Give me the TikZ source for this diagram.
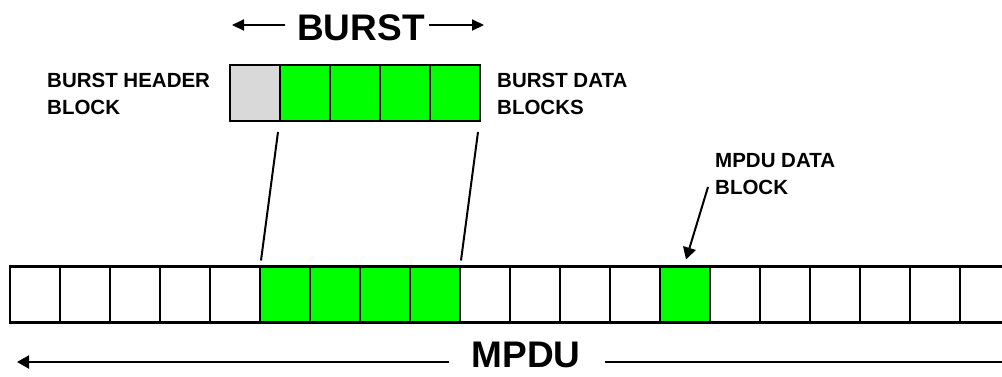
\documentclass[tikz,border=0pt]{standalone}
\usepackage{fontspec}
\setmainfont{Liberation Sans}
\usetikzlibrary{arrows.meta}
\definecolor{brightgreen}{HTML}{00FF00}
\definecolor{hdrgray}{HTML}{D9D9D9}
\begin{document}
\begin{tikzpicture}[x=1pt,y=-1pt,
  cell/.style={draw=black, line width=2.5pt, minimum width=50pt, minimum height=56pt, inner sep=0pt, outer sep=0pt, fill=white},
  gcell/.style={cell, fill=brightgreen},
  hcell/.style={cell, fill=hdrgray},
  lbl/.style={font=\bfseries\fontsize{20.5}{27}\selectfont, align=left, inner sep=0pt, anchor=west},
  big/.style={font=\bfseries\fontsize{37}{40}\selectfont, inner sep=0pt},
  conn/.style={line width=2pt},
  arr/.style={line width=2pt, -{Triangle[length=12pt,width=11pt]}},
  arrb/.style={line width=2pt, -{Triangle[length=12pt,width=13pt]}}
]
\useasboundingbox (0,0) rectangle (1002,376);
\begin{scope}
\clip (0,0) rectangle (1002,376);
% bottom row of 20 cells
\foreach \i in {0,...,19}{
  \pgfmathsetmacro{\cx}{35+50*\i}
  \ifnum\i=5 \node[gcell] (c\i) at (\cx,294.5) {};
  \else\ifnum\i=6 \node[gcell] (c\i) at (\cx,294.5) {};
  \else\ifnum\i=7 \node[gcell] (c\i) at (\cx,294.5) {};
  \else\ifnum\i=8 \node[gcell] (c\i) at (\cx,294.5) {};
  \else\ifnum\i=13 \node[gcell] (c\i) at (\cx,294.5) {};
  \else \node[cell] (c\i) at (\cx,294.5) {};
  \fi\fi\fi\fi\fi
}
% burst blocks
\node[hcell] (b0) at (255,93) {};
\foreach \j in {1,...,4}{
  \node[gcell] (b\j) at (255+50*\j,93) {};
}
% labels
\node[lbl] (hdr) at (47,94) {BURST HEADER\\BLOCK};
\node[lbl] (dat) at (497,94) {BURST DATA\\BLOCKS};
\node[lbl] (mdb) at (715,174) {MPDU DATA\\BLOCK};
\node[big] (burst) at (361,28) {BURST};
\node[big] (mpdu) at (526,355) {MPDU};
% burst arrows
\coordinate (bl) at (232,25);
\coordinate (br) at (484,25);
\draw[arr] ([xshift=-12pt]burst.west |- 0,25) -- (bl);
\draw[arr] ([xshift=4pt]burst.east |- 0,25) -- (br);
% mpdu arrows
\coordinate (ml) at (17,362);
\coordinate (mr) at (1010,362);
\draw[arrb] ([xshift=-22pt]mpdu.west |- 0,362) -- (ml);
\draw[conn] ([xshift=24pt]mpdu.east |- 0,362) -- (mr);
% connector lines
\coordinate (lt) at (278,132);
\coordinate (rt) at (478,132);
\draw[conn] ([xshift=1pt,yshift=6pt]c5.north west) -- (lt);
\draw[conn] ([xshift=1pt,yshift=6pt]c9.north west) -- (rt);
% mpdu data block arrow
\coordinate (ms) at (708,187);
\draw[arrb] (ms) -- ([xshift=1pt,yshift=7pt]c13.north);
\end{scope}
\end{tikzpicture}
\end{document}
